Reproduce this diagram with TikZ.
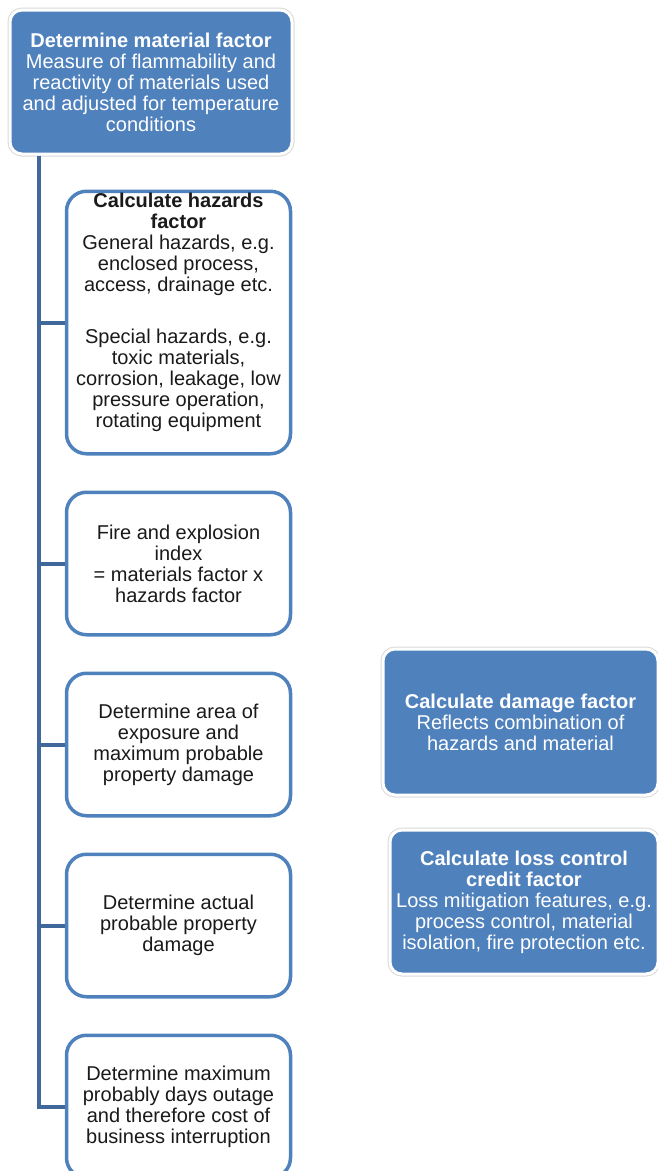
\documentclass[tikz,border=0pt]{standalone}
\usepackage{fontspec}
\setmainfont{Liberation Sans}
\usetikzlibrary{positioning}
\definecolor{boxblue}{RGB}{79,129,189}
\definecolor{linkblue}{RGB}{65,104,155}
\definecolor{textgray}{RGB}{26,26,26}

\begin{document}
\begin{tikzpicture}[x=1pt,y=-1pt,node distance=35pt,
		blue node/.style={rectangle,rounded corners=12pt,fill=boxblue,draw=white,line width=3pt,
			preaction={draw=black!15,line width=5pt},text=white,align=center,inner sep=2pt,
			font=\fontsize{20pt}{21pt}\selectfont},
		white node/.style={rectangle,rounded corners=20pt,fill=white,draw=boxblue,line width=3.5pt,
			text=textgray,align=center,minimum width=224pt,minimum height=142.5pt,inner sep=2pt,
			font=\fontsize{20pt}{21pt}\selectfont},
		link/.style={draw=linkblue,line width=4pt}]
		\useasboundingbox (0,0) rectangle (657,1171);
		\node[blue node,minimum width=282pt,minimum height=144pt] (material) at (151,82) {\textbf{Determine material factor}\\Measure of flammability and\\reactivity of materials used\\and adjusted for temperature\\conditions};
		\node[white node,minimum height=261.5pt] (hazards) at (178.5,322.5) {\textbf{Calculate hazards}\\\textbf{factor}\\General hazards, e.g.\\enclosed process,\\access, drainage etc.\\[31pt]Special hazards, e.g.\\toxic materials,\\corrosion, leakage, low\\pressure operation,\\rotating equipment\\[3pt]\mbox{}};
		\node[white node,below=of hazards] (index) {Fire and explosion\\index\\= materials factor x\\hazards factor};
		\node[white node,below=of index] (area) {Determine area of\\exposure and\\maximum probable\\property damage};
		\node[white node,below=of area] (actual) {Determine actual\\probable property\\damage};
		\node[white node,below=of actual] (outage) {Determine maximum\\probably days outage\\and therefore cost of\\business interruption};
		\node[blue node,minimum width=275pt,minimum height=146pt] (damage) at (520.5,722) {\textbf{Calculate damage factor}\\Reflects combination of\\hazards and material};
		\node[blue node,minimum width=268pt,minimum height=144pt] (credit) at (524,902) {\textbf{Calculate loss control}\\\textbf{credit factor}\\Loss mitigation features, e.g.\\process control, material\\isolation, fire protection etc.};
		\coordinate (trunk) at (38.5,0);
		\path[link] (material.south -| trunk) |- (outage.west);
		\foreach \n in {hazards,index,area,actual}
		\path[link] (trunk |- \n.west) -- (\n.west);
		\end{tikzpicture}
\end{document}
